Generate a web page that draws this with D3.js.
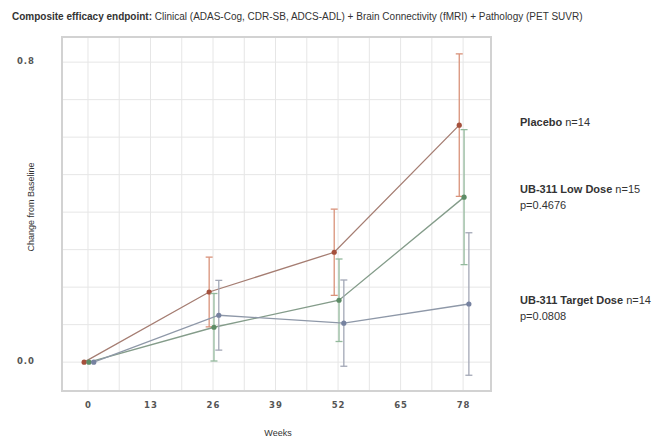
<!DOCTYPE html>
<html>
<head>
<meta charset="utf-8">
<script src="https://cdn.jsdelivr.net/npm/d3@7"></script>
<style>
  body { margin: 0; background: #fff; }
  svg { display: block; }
  .lbl { font-family: "Liberation Sans", "Open Sans", sans-serif; fill: #333; }
  .tick-lbl { font-family: "DejaVu Sans", sans-serif; font-weight: bold; fill: #555; letter-spacing: 1px; }
</style>
</head>
<body>
<div id="chart"></div>
<script>
// data
const weeks = [0, 26, 52, 78];
const xTicks = [0, 13, 26, 39, 52, 65, 78];
const yTicks = [0.0, 0.8];
const seriesNames = ['Placebo', 'UB-311 Low Dose', 'UB-311 Target Dose'];
const placeboMean = [0, 0.187, 0.293, 0.632];
const placeboErr = [0, 0.093, 0.115, 0.19];
const lowMean = [0, 0.093, 0.165, 0.44];
const lowErr = [0, 0.09, 0.11, 0.18];
const targetMean = [0, 0.125, 0.104, 0.155];
const targetErr = [0, 0.093, 0.115, 0.19];
const seriesN = ['n=14', 'n=15', 'n=14'];
const seriesP = [null, 'p=0.4676', 'p=0.0808'];

const width = 655, height = 439;
const frame = { left: 62, right: 491, top: 37, bottom: 391 };

const svg = d3.select('#chart').append('svg')
    .attr('width', width)
    .attr('height', height);

const x = d3.scaleLinear().domain([-5.4, 83.8]).range([frame.left, frame.right]);
const y = d3.scaleLinear().domain([-0.077, 0.867]).range([frame.bottom, frame.top]);

// grid
const vGrid = d3.range(0, 78.01, 6.5);
const hGrid = d3.range(0, 0.801, 0.1);
svg.append('g').selectAll('line').data(vGrid).join('line')
    .attr('x1', d => x(d)).attr('x2', d => x(d))
    .attr('y1', frame.top).attr('y2', frame.bottom)
    .attr('stroke', '#e6e6e6').attr('stroke-width', 1);
svg.append('g').selectAll('line').data(hGrid).join('line')
    .attr('x1', frame.left).attr('x2', frame.right)
    .attr('y1', d => y(d)).attr('y2', d => y(d))
    .attr('stroke', '#e6e6e6').attr('stroke-width', 1);

// frame
svg.append('rect')
    .attr('x', frame.left).attr('y', frame.top)
    .attr('width', frame.right - frame.left).attr('height', frame.bottom - frame.top)
    .attr('fill', 'none').attr('stroke', '#d2d2d2').attr('stroke-width', 2);

// axes (labels only, no domain / tick lines)
const xAxis = svg.append('g')
    .attr('transform', `translate(0, ${frame.bottom + 8})`)
    .call(d3.axisBottom(x).tickValues(xTicks).tickSize(0).tickFormat(d3.format('d')));
xAxis.select('.domain').remove();
xAxis.selectAll('text').attr('class', 'tick-lbl').attr('font-size', 8.5);

const yAxis = svg.append('g')
    .attr('transform', 'translate(38, 0)')
    .call(d3.axisLeft(y).tickValues(yTicks).tickSize(0).tickFormat(d3.format('.1f')));
yAxis.select('.domain').remove();
yAxis.selectAll('text').attr('class', 'tick-lbl').attr('font-size', 8.5).attr('dy', '0.2em');

// axis titles
svg.append('text').attr('class', 'lbl')
    .attr('x', 278).attr('y', 436)
    .attr('text-anchor', 'middle').attr('font-size', 9).attr('fill', '#555')
    .text('Weeks');
svg.append('text').attr('class', 'lbl')
    .attr('transform', 'translate(34, 207) rotate(-90)')
    .attr('text-anchor', 'middle').attr('font-size', 9).attr('fill', '#555')
    .text('Change from Baseline');

// title
const title = svg.append('text').attr('class', 'lbl')
    .attr('x', 12).attr('y', 20).attr('font-size', 10);
title.append('tspan').attr('font-weight', 'bold').text('Composite efficacy endpoint: ');
title.append('tspan').text('Clinical (ADAS-Cog, CDR-SB, ADCS-ADL) + Brain Connectivity (fMRI) + Pathology (PET SUVR)');

// series
const series = [
    { mean: placeboMean, err: placeboErr, dodge: -0.8, line: '#a57d72', bar: '#d9927a', dot: '#a5503c' },
    { mean: lowMean, err: lowErr, dodge: 0.2, line: '#849c8a', bar: '#93b99c', dot: '#5d8c66' },
    { mean: targetMean, err: targetErr, dodge: 1.2, line: '#8e98a8', bar: '#a3a8b6', dot: '#7682a0' }
];

const line = d3.line().x(d => x(d.w)).y(d => y(d.v));

series.forEach(s => {
    const pts = weeks.map((w, i) => ({ w: w + s.dodge, v: s.mean[i], e: s.err[i] }));
    const g = svg.append('g');

    g.append('path')
        .datum(pts)
        .attr('d', line)
        .attr('fill', 'none')
        .attr('stroke', s.line)
        .attr('stroke-width', 1.3);

    const withErr = pts.filter(p => p.e > 0);
    g.selectAll('line.eb').data(withErr).join('line')
        .attr('class', 'eb')
        .attr('x1', d => x(d.w)).attr('x2', d => x(d.w))
        .attr('y1', d => y(d.v - d.e)).attr('y2', d => y(d.v + d.e))
        .attr('stroke', s.bar).attr('stroke-width', 1.3);
    [1, -1].forEach(sign => {
        g.selectAll(null).data(withErr).join('line')
            .attr('x1', d => x(d.w) - 3.5).attr('x2', d => x(d.w) + 3.5)
            .attr('y1', d => y(d.v + sign * d.e)).attr('y2', d => y(d.v + sign * d.e))
            .attr('stroke', s.bar).attr('stroke-width', 1.3);
    });

    g.selectAll('circle').data(pts).join('circle')
        .attr('cx', d => x(d.w)).attr('cy', d => y(d.v))
        .attr('r', 2.6)
        .attr('fill', s.dot);
});

// legend on the right
const legendY = [126, 193, 304];
seriesNames.forEach((name, i) => {
    const t = svg.append('text').attr('class', 'lbl')
        .attr('x', 520).attr('y', legendY[i]).attr('font-size', 11);
    t.append('tspan').attr('font-weight', 'bold').text(name + ' ');
    t.append('tspan').text(seriesN[i]);
    if (seriesP[i]) {
        svg.append('text').attr('class', 'lbl')
            .attr('x', 520).attr('y', legendY[i] + 16).attr('font-size', 11)
            .text(seriesP[i]);
    }
});
</script>
</body>
</html>
